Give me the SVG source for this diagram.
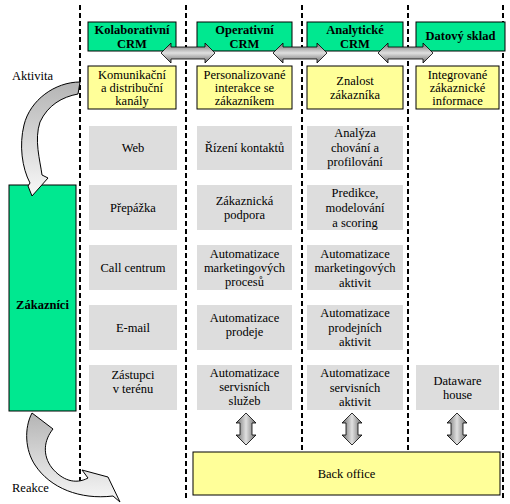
<svg xmlns="http://www.w3.org/2000/svg" width="510" height="504" viewBox="0 0 510 504" font-family="'Liberation Serif', 'DejaVu Serif', 'Times New Roman', serif">
<style>
text{font-family:'Liberation Serif','DejaVu Serif','Times New Roman',serif;font-size:12.5px;fill:#000;text-anchor:middle}
.b{font-weight:bold}
.l{text-anchor:start}
.hdr{fill:#00E890;stroke:#000;stroke-width:1}
.yel{fill:#FFFF99;stroke:#000;stroke-width:1}
.gry{fill:#DDDDDD}
.dash{stroke:#000;stroke-width:2;stroke-dasharray:5 3;fill:none}
.harr{fill:url(#gh);stroke:#000;stroke-width:0.8}
.varr{fill:url(#gv);stroke:#000;stroke-width:0.8}
.curve{fill:url(#gc);stroke:#000;stroke-width:1}
</style>
<defs>
<linearGradient id="gh" x1="0" y1="0" x2="0" y2="1">
<stop offset="0" stop-color="#6a6a6a"/><stop offset="0.5" stop-color="#e0e0e0"/><stop offset="1" stop-color="#6a6a6a"/>
</linearGradient>
<linearGradient id="gv" x1="0" y1="0" x2="1" y2="0">
<stop offset="0" stop-color="#6a6a6a"/><stop offset="0.5" stop-color="#e0e0e0"/><stop offset="1" stop-color="#6a6a6a"/>
</linearGradient>
<linearGradient id="gc" x1="0" y1="0" x2="0" y2="1">
<stop offset="0" stop-color="#b4b4b4"/><stop offset="1" stop-color="#f8f8f8"/>
</linearGradient>
</defs>

<g id="lanes">
<line class="dash" x1="80" y1="5" x2="80" y2="481"/>
<line class="dash" x1="186" y1="5" x2="186" y2="500"/>
<line class="dash" x1="302" y1="5" x2="302" y2="452"/>
<line class="dash" x1="408" y1="5" x2="408" y2="452"/>
<line class="dash" x1="503" y1="5" x2="503" y2="500"/>
</g>

<g id="h-kolab"><rect class="hdr" x="88" y="22" width="88" height="29"/><text class="b" x="132" y="34">Kolaborativní</text><text class="b" x="132" y="48">CRM</text></g>
<g id="h-oper"><rect class="hdr" x="197" y="22" width="95" height="29"/><text class="b" x="244.5" y="34">Operativní</text><text class="b" x="244.5" y="48">CRM</text></g>
<g id="h-anal"><rect class="hdr" x="307" y="22" width="96" height="29"/><text class="b" x="355" y="34">Analytické</text><text class="b" x="355" y="48">CRM</text></g>
<g id="h-dat"><rect class="hdr" x="416" y="22" width="89" height="29"/><text class="b" x="460.5" y="40">Datový sklad</text></g>

<g id="y-kom"><rect class="yel" x="88" y="66" width="88" height="43"/><text x="132" y="79">Komunikační</text><text x="132" y="92">a distribuční</text><text x="132" y="105">kanály</text></g>
<g id="y-pers"><rect class="yel" x="197" y="66" width="95" height="43"/><text x="244.5" y="79">Personalizované</text><text x="244.5" y="92">interakce se</text><text x="244.5" y="105">zákazníkem</text></g>
<g id="y-zn"><rect class="yel" x="307" y="66" width="96" height="43"/><text x="355" y="85">Znalost</text><text x="355" y="99">zákazníka</text></g>
<g id="y-int"><rect class="yel" x="416" y="66" width="83" height="43"/><text x="457.5" y="79">Integrované</text><text x="457.5" y="92">zákaznické</text><text x="457.5" y="105">informace</text></g>

<g id="c1-web"><rect class="gry" x="89" y="126" width="88" height="44"/><text x="133" y="152">Web</text></g>
<g id="c1-prep"><rect class="gry" x="89" y="185" width="88" height="45"/><text x="133" y="212">Přepážka</text></g>
<g id="c1-call"><rect class="gry" x="89" y="245" width="88" height="45"/><text x="133" y="272">Call centrum</text></g>
<g id="c1-mail"><rect class="gry" x="89" y="305" width="88" height="45"/><text x="133" y="332">E-mail</text></g>
<g id="c1-zast"><rect class="gry" x="89" y="365" width="88" height="45"/><text x="133" y="379">Zástupci</text><text x="133" y="393">v terénu</text></g>

<g id="c2-riz"><rect class="gry" x="197" y="126" width="95" height="44"/><text x="244.5" y="152">Řízení kontaktů</text></g>
<g id="c2-pod"><rect class="gry" x="197" y="185" width="95" height="45"/><text x="244.5" y="205">Zákaznická</text><text x="244.5" y="219">podpora</text></g>
<g id="c2-mkt"><rect class="gry" x="197" y="245" width="95" height="45"/><text x="244.5" y="258">Automatizace</text><text x="244.5" y="272">marketingových</text><text x="244.5" y="286">procesů</text></g>
<g id="c2-prod"><rect class="gry" x="197" y="305" width="95" height="45"/><text x="244.5" y="322">Automatizace</text><text x="244.5" y="336">prodeje</text></g>
<g id="c2-serv"><rect class="gry" x="197" y="365" width="95" height="45"/><text x="244.5" y="377">Automatizace</text><text x="244.5" y="391">servisních</text><text x="244.5" y="405">služeb</text></g>

<g id="c3-anal"><rect class="gry" x="307" y="126" width="96" height="44"/><text x="355" y="137">Analýza</text><text x="355" y="152">chování a</text><text x="355" y="166">profilování</text></g>
<g id="c3-pred"><rect class="gry" x="307" y="185" width="96" height="45"/><text x="355" y="197">Predikce,</text><text x="355" y="212">modelování</text><text x="355" y="227">a scoring</text></g>
<g id="c3-mkt"><rect class="gry" x="307" y="245" width="96" height="45"/><text x="355" y="258">Automatizace</text><text x="355" y="272">marketingových</text><text x="355" y="287">aktivit</text></g>
<g id="c3-prod"><rect class="gry" x="307" y="305" width="96" height="45"/><text x="355" y="317">Automatizace</text><text x="355" y="332">prodejních</text><text x="355" y="346">aktivit</text></g>
<g id="c3-serv"><rect class="gry" x="307" y="365" width="96" height="45"/><text x="355" y="377">Automatizace</text><text x="355" y="392">servisních</text><text x="355" y="406">aktivit</text></g>

<g id="c4-dw"><rect class="gry" x="416" y="365" width="83" height="45"/><text x="457.5" y="385">Dataware</text><text x="457.5" y="399">house</text></g>

<g id="backoffice"><rect class="yel" x="193" y="452" width="307" height="43"/><text x="346.5" y="478">Back office</text></g>

<g id="zakaznici"><rect class="hdr" x="9" y="185" width="67" height="226"/><text class="b" x="42.5" y="309">Zákazníci</text></g>

<g id="labels">
<text class="l" x="12" y="80">Aktivita</text>
<text class="l" x="12" y="492">Reakce</text>
</g>

<g id="connectors">
<path class="harr" d="M161,53 L171,43 L171,47 L205,47 L205,43 L215,53 L205,63 L205,59 L171,59 L171,63 Z"/>
<path class="harr" d="M273,53 L283,43 L283,47 L317,47 L317,43 L327,53 L317,63 L317,59 L283,59 L283,63 Z"/>
<path class="harr" d="M378,53 L388,43 L388,47 L423,47 L423,43 L433,53 L423,63 L423,59 L388,59 L388,63 Z"/>
<path class="varr" d="M246,413 L256,423 L252,423 L252,435 L256,435 L246,445 L236,435 L240,435 L240,423 L236,423 Z"/>
<path class="varr" d="M352,413 L362,423 L358,423 L358,435 L362,435 L352,445 L342,435 L346,435 L346,423 L342,423 Z"/>
<path class="varr" d="M457,413 L467,423 L463,423 L463,435 L467,435 L457,445 L447,435 L451,435 L451,423 L447,423 Z"/>
<path class="curve" d="M80,82 C55,82 30,100 24,125 C19,145 22,168 30,183 L28,186 L32,196 L48,178 L42,175 C40,160 34,140 40,122 C48,105 62,97 78,94 Z"/>
<path class="curve" d="M32,413 L53,429 C44,440 42,455 52,468 C62,480 75,485 88,478 L82,470 L108,477 L120,502 L113,496 C80,500 50,488 35,465 C25,450 24,428 32,413 Z"/>
</g>
</svg>
